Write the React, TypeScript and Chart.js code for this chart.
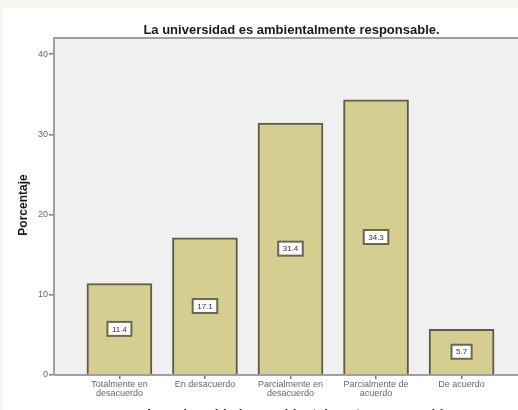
import React, { useEffect, useRef } from "react";
import { Chart, registerables } from "chart.js";

Chart.register(...registerables);

const chartTitle = "La universidad es ambientalmente responsable.";
const xAxisTitle = "La universidad es ambientalmente responsable.";
const yAxisTitle = "Porcentaje";
const categories: string[][] = [
  ["Totalmente en", "desacuerdo"],
  ["En desacuerdo"],
  ["Parcialmente en", "desacuerdo"],
  ["Parcialmente de", "acuerdo"],
  ["De acuerdo"],
];
const percentages = [11.4, 17.1, 31.4, 34.3, 5.7];
const yTicks = [0, 10, 20, 30, 40];

const W = 537;
const H = 412;
const FONT = "'Liberation Sans', Arial, sans-serif";

export default function App() {
  const ref = useRef<HTMLCanvasElement | null>(null);
  useEffect(() => {
    const canvas = ref.current!;
    const decor = {
      id: "decor",
      beforeDatasetsDraw(chart: any) {
        const { ctx, chartArea: a } = chart;
        ctx.save();
        ctx.fillStyle = "#f0f0f0";
        ctx.fillRect(a.left, a.top, a.right - a.left, a.bottom - a.top);
        ctx.restore();
      },
      afterDatasetsDraw(chart: any) {
        const { ctx, chartArea: a } = chart;
        ctx.save();
        // frame
        ctx.strokeStyle = "#a0a0a0";
        ctx.lineWidth = 2;
        ctx.beginPath();
        ctx.moveTo(a.left, a.bottom);
        ctx.lineTo(a.left, a.top);
        ctx.lineTo(a.right, a.top);
        ctx.stroke();
        ctx.beginPath();
        ctx.moveTo(a.left, a.bottom);
        ctx.lineTo(a.right, a.bottom);
        ctx.stroke();
        // data labels
        const meta = chart.getDatasetMeta(0);
        meta.data.forEach((bar: any, i: number) => {
          const cy = (bar.y + bar.base) / 2;
          const txt = percentages[i].toFixed(1);
          ctx.font = `8px ${FONT}`;
          const tw = ctx.measureText(txt).width;
          const bw = tw + 9;
          const bh = 14;
          ctx.fillStyle = "#ffffff";
          ctx.fillRect(bar.x - bw / 2, cy - bh / 2, bw, bh);
          ctx.strokeStyle = "#6a684f";
          ctx.lineWidth = 2;
          ctx.strokeRect(bar.x - bw / 2, cy - bh / 2, bw, bh);
          ctx.fillStyle = "#333333";
          ctx.textAlign = "center";
          ctx.textBaseline = "middle";
          ctx.fillText(txt, bar.x, cy + 0.5);
        });
        // titles
        ctx.fillStyle = "#1a1a1a";
        ctx.textAlign = "center";
        ctx.textBaseline = "middle";
        ctx.font = `bold 13px ${FONT}`;
        ctx.fillText(chartTitle, (a.left + a.right) / 2 + 1, 22);
        ctx.font = `bold 13.5px ${FONT}`;
        ctx.fillText(xAxisTitle, 298, 406);
        ctx.save();
        ctx.translate(21, 197);
        ctx.rotate(-Math.PI / 2);
        ctx.font = `bold 12px ${FONT}`;
        ctx.fillText(yAxisTitle, 0, 0);
        ctx.restore();
        ctx.restore();
      },
    };
    const chart = new Chart(canvas, {
      type: "bar",
      data: {
        datasets: [
          {
            data: percentages.map((v, i) => ({ x: i, y: v })),
            backgroundColor: "#d4ce90",
            borderColor: "#5e5c48",
            borderWidth: 2,
            barThickness: 65,
          },
        ],
      },
      options: {
        responsive: false,
        animation: false,
        layout: { padding: { top: 30, right: 13, left: 0, bottom: 0 } },
        plugins: { legend: { display: false }, tooltip: { enabled: false } },
        scales: {
          x: {
            type: "linear",
            min: -0.765,
            max: 4.765,
            offset: false,
            afterBuildTicks: (axis: any) => {
              axis.ticks = categories.map((_, i) => ({ value: i }));
            },
            afterFit: (s: any) => {
              s.height = 45;
            },
            grid: {
              offset: false,
              drawOnChartArea: false,
              drawTicks: true,
              tickLength: 4,
              color: "#777777",
              lineWidth: 1.5,
            },
            border: { display: false },
            ticks: {
              autoSkip: false,
              maxRotation: 0,
              padding: 1,
              color: "#666666",
              font: { size: 9, family: FONT, lineHeight: 1.0 },
              callback: (v: any) => categories[v as number] ?? "",
            },
          },
          y: {
            min: 0,
            max: 42,
            afterBuildTicks: (axis: any) => {
              axis.ticks = yTicks.map((v) => ({ value: v }));
            },
            afterFit: (s: any) => {
              s.width = 51;
            },
            grid: {
              drawOnChartArea: false,
              drawTicks: true,
              tickLength: 5,
              color: "#777777",
              lineWidth: 1.5,
            },
            border: { display: false },
            ticks: {
              padding: 1,
              color: "#666666",
              font: { size: 9, family: FONT },
            },
          },
        },
      },
      plugins: [decor],
    });
    return () => chart.destroy();
  }, []);
  return (
    <div
      style={{
        position: "fixed",
        left: 0,
        top: 0,
        width: 518,
        height: 410,
        overflow: "hidden",
        background: "#f6f5f1",
      }}
    >
      <div
        style={{
          position: "absolute",
          left: 3,
          top: 8,
          width: W,
          height: H,
          background: "#ffffff",
        }}
      >
        <canvas ref={ref} width={W} height={H} style={{ width: W, height: H, display: "block" }} />
      </div>
    </div>
  );
}
